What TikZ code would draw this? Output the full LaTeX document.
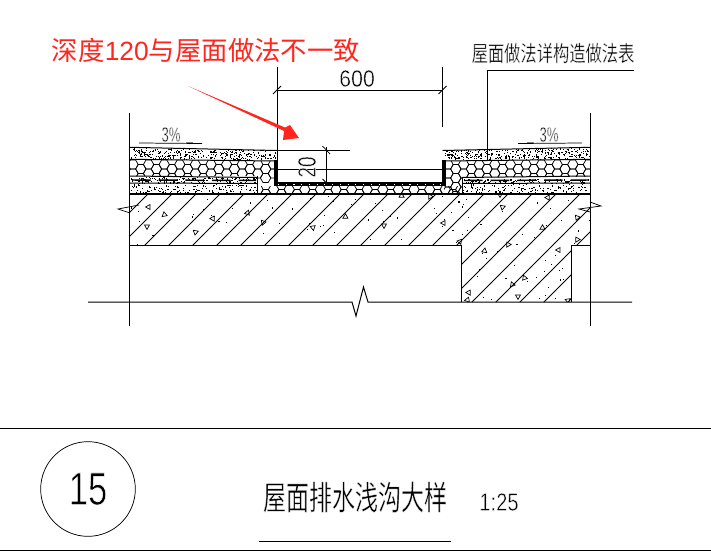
\documentclass[tikz,border=0pt]{standalone}
\usepackage{fontspec,graphicx}
\usetikzlibrary{positioning}
\setsansfont{Liberation Sans}
\newfontfamily\cjk{Noto Sans CJK SC}
\definecolor{aviso}{RGB}{255,38,32}
\tikzstyle{linea} = [draw=black, line width=0.75pt]
\tikzstyle{fina} = [draw=black, line width=0.55pt]
\tikzstyle{gruesa} = [draw=black, line width=2pt]
\tikzstyle{muro} = [draw=black, line width=2.8pt]
\tikzstyle{rotulo} = [inner sep=0pt, text=black]
\tikzstyle{marca} = [draw=black, line width=0.5pt]
\newcommand{\trazo}[2]{\special{pdf:code q 2 Tr #1 w 1 1 1 RG}#2\special{pdf:code Q}}
\newcommand{\puntos}[5]{%
	\foreach \n in {1,...,#5}{
		\pgfmathsetmacro{\px}{#1+rnd*#3}
		\pgfmathsetmacro{\py}{#2+rnd*#4}
		\fill (\px,\py) rectangle ++(1.1,1.1);
	}}
\newcommand{\panal}[5]{%
	\begin{scope}
		\clip #5;
		\foreach \c in {0,...,#3}{
			\foreach \f in {0,...,#4}{
				\pgfmathsetmacro{\hx}{#1+7.8*\c}
				\pgfmathsetmacro{\hy}{#2+9*\f+4.5*mod(\c,2)}
				\draw[fina] (\hx-5.2,\hy) -- ++(2.6,-4.5) -- ++(5.2,0) -- ++(2.6,4.5) -- ++(-2.6,4.5) -- ++(-5.2,0) -- cycle;
			}
		}
	\end{scope}}
\begin{document}
\begin{tikzpicture}[x=0.75pt,y=-0.75pt]
	\useasboundingbox (0,0) rectangle (711,554);
	\pgfmathsetseed{15}
	\begin{scope}
		\clip (130,194) -- (590,194) -- (590,245) -- (571.5,245) -- (571.5,302) -- (461.5,302) -- (461.5,245) -- (130,245) -- cycle;
		\foreach \k in {14,...,37}{
			\pgfmathsetmacro{\s}{6+24*\k}
			\draw[fina] (\s-130,130) -- (\s-330,330);
		}
		\foreach \x/\y/\a in {148/207/0,164/215/40,147/227/90,196/232/200,213/219/120,247/213/10,263/223/70,313/228/100,345/217/30,402/196/150,430/197/60,443/223/0,384/226/90,460/242/110,484/251/20,500/195/90,503/207/200,508/245/60,548/198/120,577/218/70,542/228/30,577/240/60,558/250/0,525/278/170,512/285/50,469/293/120,518/297/90,467/300/10,568/301/100}{
			\draw[marca, rotate around={\a:(\x,\y)}] (\x-2.5,\y) -- (\x+2,\y-2.5) -- (\x+2,\y+2.5) -- cycle;
		}
		\puntos{130}{195}{460}{49}{70}
		\puntos{462}{245}{110}{56}{24}
	\end{scope}
	\puntos{130}{148}{70}{11}{170}
	\puntos{200}{149.5}{76}{9.5}{150}
	\puntos{444}{149.5}{72}{9.5}{150}
	\puntos{516}{148}{73}{11}{170}
	\puntos{130}{177}{127}{6}{170}
	\puntos{130}{184}{127}{9}{150}
	\puntos{463}{179}{126}{4}{130}
	\puntos{463}{184}{126}{9}{150}
	\panal{133}{164.5}{19}{1}{(130,159.3) -- (275,161) -- (275,193) -- (258,193) -- (258,176) -- (130,176) -- cycle}
	\panal{258}{189.5}{27}{0}{(258,186) rectangle (462,193)}
	\panal{448}{164.5}{19}{3}{(444,161) -- (590,159.3) -- (590,176.5) -- (462,177.5) -- (462,193) -- (444,193) -- cycle}
	\draw[linea] (130,147.3) -- (277,150.5) (130,159.3) -- (275,161);
	\draw[linea] (130,176) -- (257,177.5) (130,183) -- (257,183.5);
	\draw[linea] (257.5,176) -- (257.5,193);
	\draw[linea, line width=1.1pt, dash pattern=on 14pt off 6pt] (132,180) -- (256,180.5);
	\draw[linea] (442.5,150.5) -- (590,147.3) (444,161) -- (590,159.3);
	\draw[linea] (462,177.5) -- (590,176) (462,183.5) -- (590,183);
	\draw[linea] (462,177) -- (462,193);
	\draw[linea, line width=1.1pt, dash pattern=on 14pt off 6pt] (464,180.5) -- (589,180);
	\draw[muro] (276,160) -- (276,184.3) -- (444,184.3) -- (444,160);
	\draw[white, line width=0.8pt, dash pattern=on 0.8pt off 5pt] (278,184.3) -- (442,184.3);
	\coordinate (baseizq) at (130,194);
	\coordinate (baseder) at (590,194);
	\draw[gruesa] (baseizq) -- (baseder);
	\draw[linea] (129.5,113) -- (129.5,326);
	\draw[linea] (590,113) -- (590,326);
	\draw[linea] (130,245) -- (461.5,245) -- (461.5,302);
	\draw[linea] (571.5,302) -- (571.5,245) -- (590,245);
	\draw[linea] (88,302) -- (352,302) -- (356,316) -- (363.5,287) -- (368,302) -- (632,302);
	\draw[fina] (139,205) -- (118,209) -- (130,213);
	\draw[fina] (590,202) -- (601,206) -- (579,209) -- (590,212);
	\coordinate (cotaizq) at (277,90);
	\coordinate (cotader) at (442.5,90);
	\draw[linea] (cotaizq) -- (cotader);
	\draw[linea] (277,67) -- (277,160);
	\draw[linea] (442.5,67) -- (442.5,127);
	\draw[fina] (273,94) -- (281,86) (438.5,94) -- (446.5,86);
	\node[rotulo] (seiscientos) at (357,78.5) {\trazo{0.35}{\scalebox{.9}[1]{\sffamily\fontsize{17.8}{17.8}\selectfont 600}}};
	\coordinate (cotaarriba) at (326,147);
	\coordinate (cotaabajo) at (326,184);
	\draw[fina] (cotaarriba) -- (cotaabajo);
	\draw[linea] (277,150.5) -- (350,150.5);
	\draw[linea] (277,169) -- (443,169);
	\draw[fina] (322.5,146) -- (330,154) (322.5,179) -- (327,183.5);
	\node[rotulo, rotate=90] (veinte) at (307,167) {\trazo{0.35}{\scalebox{.75}[1]{\sffamily\fontsize{19}{19}\selectfont 20}}};
	\node[rotulo] (pendizq) at (171,134.5) {\trazo{0.3}{\scalebox{.63}[1]{\sffamily\fontsize{15.7}{15.7}\selectfont 3\%}}};
	\draw[fina] (139,143) -- (202,143.5);
	\fill[gray] (186,142) rectangle (193,143);
	\node[rotulo] (pendder) at (549,134.5) {\trazo{0.3}{\scalebox{.63}[1]{\sffamily\fontsize{15.7}{15.7}\selectfont 3\%}}};
	\draw[fina] (518,143.5) -- (582,143);
	\fill[gray] (527,142) rectangle (534,143);
	\coordinate (guiaabajo) at (487,160);
	\coordinate (guiacodo) at (487,70);
	\coordinate (guiafin) at (634,70);
	\draw[linea] (guiaabajo) -- (guiacodo) -- (guiafin);
	\node[rotulo] (tabla) at (553,53) {\trazo{0.25}{\scalebox{.74}[1]{\cjk\fontsize{16.5}{16.5}\selectfont 屋面做法详构造做法表}}};
	\node[rotulo, text=aviso] (aviso) at (206,50) {\cjk\fontsize{19.8}{19.8}\selectfont 深度{\sffamily 120}与屋面做法不一致};
	\coordinate (flecha) at (299,138);
	\fill[aviso] (188,86) -- (285,127.5) -- (290,125) -- (flecha) -- (283,140) -- (284,131) -- cycle;
	\coordinate (pieizq) at (0,428.5);
	\coordinate (pieder) at (711,428.5);
	\draw[linea] (pieizq) -- (pieder);
	\draw[linea] (0,550) -- (711,550);
	\node[draw, fina, circle, minimum size=71pt, inner sep=0pt] (numero) at (88,489) {\trazo{0.5}{\scalebox{.75}[1]{\sffamily\fontsize{34.6}{34.6}\selectfont 15}}};
	\node[rotulo] (titulo) at (355,497) {\trazo{0.3}{\scalebox{.69}[1]{\cjk\fontsize{25}{25}\selectfont 屋面排水浅沟大样}}};
	\node[rotulo] (escala) at (499,502) {\trazo{0.3}{\scalebox{.8}[1]{\sffamily\fontsize{18.9}{18.9}\selectfont 1:25}}};
	\draw[linea] (259,541) -- (451,541);
\end{tikzpicture}
\end{document}
